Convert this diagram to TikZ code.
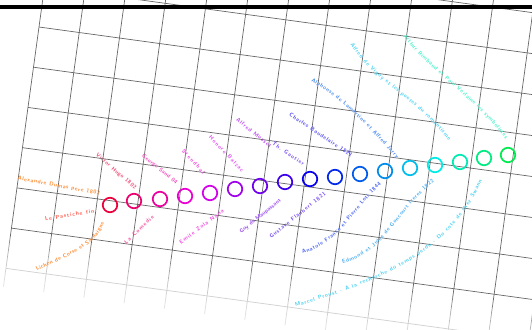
\documentclass[tikz,border=0pt]{standalone}
\usetikzlibrary{decorations.text}
\definecolor{rc1}{rgb}{0.92,0,0.23}
\definecolor{rc2}{rgb}{0.92,0,0.426}
\definecolor{rc3}{rgb}{0.92,0,0.623}
\definecolor{rc4}{rgb}{0.92,0,0.819}
\definecolor{rc5}{rgb}{0.825,0,0.92}
\definecolor{rc6}{rgb}{0.629,0,0.92}
\definecolor{rc7}{rgb}{0.432,0,0.92}
\definecolor{rc8}{rgb}{0.236,0,0.92}
\definecolor{rc9}{rgb}{0.04,0,0.92}
\definecolor{rc10}{rgb}{0,0.156,0.92}
\definecolor{rc11}{rgb}{0,0.353,0.92}
\definecolor{rc12}{rgb}{0,0.549,0.92}
\definecolor{rc13}{rgb}{0,0.745,0.92}
\definecolor{rc14}{rgb}{0,0.92,0.898}
\definecolor{rc15}{rgb}{0,0.92,0.702}
\definecolor{rc16}{rgb}{0,0.92,0.506}
\definecolor{rc17}{rgb}{0,0.92,0.31}
\definecolor{orangelab}{rgb}{1,0.55,0.2}
\definecolor{redlab}{rgb}{1,0.35,0.3}
\newcommand\lblfont{\fontsize{5.5}{6.5}\selectfont\sffamily\bfseries}
\newcommand\lab[3]{%
  \colorlet{labtmp}{#1}%
  \path[decorate, decoration={text along path, text={|\lblfont|#2}, text color=labtmp, text align={fit to path}, raise=-2pt}] #3;}
\begin{document}
\begin{tikzpicture}[x=1pt,y=-1pt,
  gridline/.style={draw=black!60, line width=0.7pt},
  ring/.style={circle, draw, line width=1.7pt, minimum size=14.5pt, inner sep=0pt}]
\useasboundingbox (0,0) rectangle (532,329);
\clip (0,0) rectangle (532,329);
% rotated grid
\begin{scope}[shift={(39,27)}, rotate=-7.8]
  \foreach \k in {-3,...,6} \draw[gridline] (0,\k*40.6) -- (720,\k*40.6);
  \foreach \j in {0,...,17} \draw[gridline] (\j*40.6,-160) -- (\j*40.6,262);
  \foreach \m in {0,...,9} \fill[white,opacity=0.16] (-30,212+5*\m) rectangle (740,420);
\end{scope}
% top bar
\fill[black] (0,5.5) rectangle (532,9.5);
% labels
\coordinate (a1) at (18,178);  \coordinate (a2) at (100,193);
\lab{orangelab}{Alexandre Dumas pere 1802}{(a1) -- (a2)}
\coordinate (b1) at (45,219);  \coordinate (b2) at (94,211);
\lab{redlab}{Le Pastiche fin}{(b1) -- (b2)}
\coordinate (c1) at (36,269);  \coordinate (c2) at (102,222);
\lab{orangelab}{Lichen de Corse et Sardaigne}{(c1) .. controls (62,256) and (95,246) .. (c2)}
\coordinate (d1) at (97,154);  \coordinate (d2) at (136,188);
\lab{rc1!70!white}{Victor Hugo 1802}{(d1) -- (d2)}
\coordinate (e1) at (125,243); \coordinate (e2) at (153,216);
\lab{rc2!70!white}{La Comedie}{(e1) -- (e2)}
\coordinate (f1) at (143,155); \coordinate (f2) at (177,183);
\lab{rc3!70!white}{George Sand 04}{(f1) -- (f2)}
\coordinate (g1) at (183,150); \coordinate (g2) at (204,173);
\lab{rc4!70!white}{Stendhal}{(g1) -- (g2)}
\coordinate (h1) at (210,136); \coordinate (h2) at (243,171);
\lab{rc5!70!white}{Honore Balzac}{(h1) -- (h2)}
\coordinate (i1) at (237,119); \coordinate (i2) at (271,146);
\lab{rc6!70!white}{Alfred Musset}{(i1) -- (i2)}
\coordinate (j1) at (273,143); \coordinate (j2) at (304,164);
\lab{rc8!70!white}{Th. Gautier}{(j1) -- (j2)}
\coordinate (k1) at (290,114); \coordinate (k2) at (352,156);
\lab{rc9!70!white}{Charles Baudelaire 1821}{(k1) -- (k2)}
\coordinate (m1) at (312,80);  \coordinate (m2) at (398,157);
\lab{rc11!70!white}{Alphonse de Lamartine et Alfred Jarry}{(m1) .. controls (340,95) and (365,120) .. (m2)}
\coordinate (n1) at (352,43);  \coordinate (n2) at (450,139);
\lab{rc13!70!white}{Alfred de Vigny et les poetes du romantisme}{(n1) .. controls (372,78) and (415,95) .. (n2)}
\coordinate (o1) at (405,35);  \coordinate (o2) at (507,138);
\lab{rc15!70!white}{Arthur Rimbaud et Paul Verlaine les symbolistes}{(o1) .. controls (425,65) and (480,100) .. (o2)}
\coordinate (p1) at (180,243); \coordinate (p2) at (223,210);
\lab{rc4!70!white}{Emile Zola Nana}{(p1) -- (p2)}
\coordinate (q1) at (240,232); \coordinate (q2) at (280,200);
\lab{rc7!70!white}{Guy de Maupassant}{(q1) -- (q2)}
\coordinate (r1) at (270,237); \coordinate (r2) at (325,193);
\lab{rc8!70!white}{Gustave Flaubert 1821}{(r1) -- (r2)}
\coordinate (s1) at (302,252); \coordinate (s2) at (380,183);
\lab{rc10!70!white}{Anatole France et Pierre Loti 1844}{(s1) .. controls (340,240) and (350,210) .. (s2)}
\coordinate (t1) at (342,262); \coordinate (t2) at (433,180);
\lab{rc12!70!white}{Edmond et Jules de Goncourt freres 1822}{(t1) .. controls (385,250) and (395,210) .. (t2)}
\coordinate (u1) at (295,305); \coordinate (u2) at (480,180);
\lab{rc13!70!white}{Marcel Proust - A la recherche du temps perdu - Du cote de chez Swann}{(u1) .. controls (380,280) and (450,250) .. (u2)}
% rings
\foreach \i/\x/\y in {1/110/205,2/134/201,3/160/199,4/185/196,5/210/193,6/235/189,7/260/186,8/285/182,9/310/179,10/335/177,11/360/174,12/385/171,13/410/168,14/435/165,15/460/162,16/484/158,17/508/155}{
  \node[ring, draw=rc\i] (n\i) at (\x,\y) {};
}
\end{tikzpicture}
\end{document}
